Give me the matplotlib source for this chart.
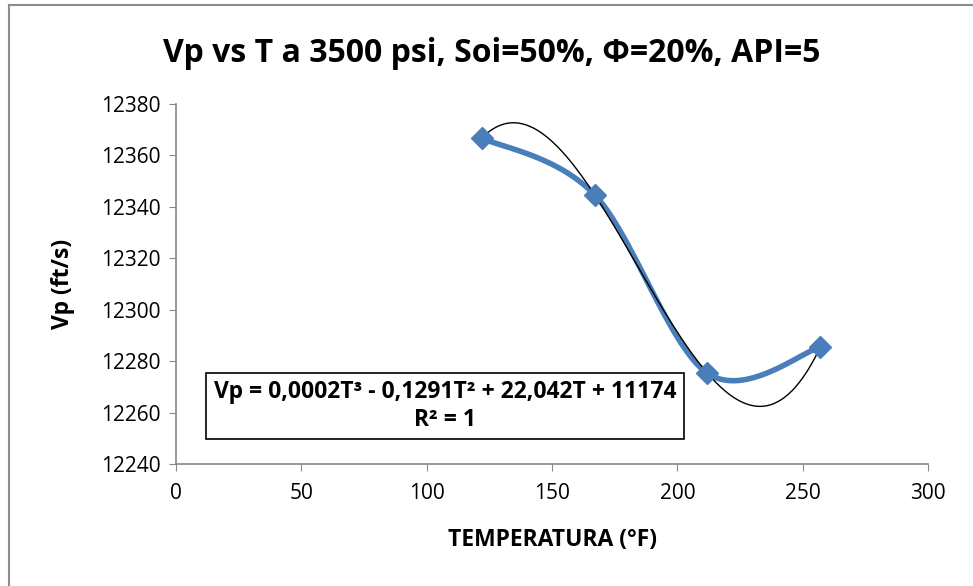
import matplotlib
matplotlib.use("Agg")
import matplotlib.pyplot as plt
import matplotlib.lines as mlines
import numpy as np

# Datos
temp = [122, 167, 212, 257]
vp = [12366.8, 12344.7, 12275.3, 12285.4]
x_ticks = [0, 50, 100, 150, 200, 250, 300]
y_ticks = [12240, 12260, 12280, 12300, 12320, 12340, 12360, 12380]

titulo = "Vp vs T a 3500 psi, Soi=50%, \u03a6=20%, API=5"
ecuacion = "Vp = 0,0002T\u00b3 - 0,1291T\u00b2 + 22,042T + 11174\nR\u00b2 = 1"

plt.rcParams['font.family'] = ['Open Sans', 'DejaVu Sans']


def suavizado(x, y, n=40):
    """Curva suavizada tipo Excel (Catmull-Rom)."""
    x = np.asarray(x, float)
    y = np.asarray(y, float)
    px = np.concatenate([[x[0]], x, [x[-1]]])
    py = np.concatenate([[y[0]], y, [y[-1]]])
    xs, ys = [], []
    t = np.linspace(0, 1, n)
    for i in range(1, len(px) - 2):
        p0x, p1x, p2x, p3x = px[i - 1], px[i], px[i + 1], px[i + 2]
        p0y, p1y, p2y, p3y = py[i - 1], py[i], py[i + 1], py[i + 2]
        # puntos de control bezier
        c1x, c1y = p1x + (p2x - p0x) / 6, p1y + (p2y - p0y) / 6
        c2x, c2y = p2x - (p3x - p1x) / 6, p2y - (p3y - p1y) / 6
        bx = (1 - t)**3 * p1x + 3 * (1 - t)**2 * t * c1x + 3 * (1 - t) * t**2 * c2x + t**3 * p2x
        by = (1 - t)**3 * p1y + 3 * (1 - t)**2 * t * c1y + 3 * (1 - t) * t**2 * c2y + t**3 * p2y
        xs.extend(bx)
        ys.extend(by)
    return np.array(xs), np.array(ys)


fig = plt.figure(figsize=(9.73, 5.86), dpi=100)
ax = fig.add_axes([176 / 973, 1 - 464 / 586, 752 / 973, 360 / 586])

# linea de tendencia polinomica de orden 3
coef = np.polyfit(temp, vp, 3)
tt = np.linspace(temp[0], temp[-1], 300)
ax.plot(tt, np.polyval(coef, tt), color="black", lw=1.0, zorder=3)

sx, sy = suavizado(temp, vp)
ax.plot(sx, sy, color="#4A7EBB", lw=4.0, solid_capstyle="round", zorder=2)
ax.plot(temp, vp, ls="none", marker="D", ms=11, color="#4A7EBB", zorder=4)

ax.set_xlim(0, 300)
ax.set_ylim(12240, 12380)
ax.set_xticks(x_ticks)
ax.set_yticks(y_ticks)
ax.tick_params(labelsize=15, length=5, color="#888888", direction="out")
ax.tick_params(axis="y", pad=6)
ax.tick_params(axis="x", pad=9)
for s in ["top", "right"]:
    ax.spines[s].set_visible(False)
for s in ["left", "bottom"]:
    ax.spines[s].set_color("#888888")
    ax.spines[s].set_linewidth(1.2)

ax.set_xlabel("TEMPERATURA (\u00b0F)", fontsize=16.5, fontweight="bold", labelpad=17)
ax.set_ylabel("Vp (ft/s)", fontsize=16.5, fontweight="bold", labelpad=19)

ax.text(0.358, 0.161, ecuacion, transform=ax.transAxes, ha="center", va="center",
        fontsize=16.5, fontweight="bold", linespacing=1.2,
        bbox=dict(boxstyle="square,pad=0.33", fc="white", ec="black", lw=1.2),
        zorder=5)

fig.text(492 / 973, 1 - 53 / 586, titulo, ha="center", va="center",
         fontsize=23, fontweight="bold")

# borde del area del grafico (solo se ven izquierda y arriba)
fig.lines.append(mlines.Line2D([9 / 973, 9 / 973], [0, 1 - 5 / 586],
                               transform=fig.transFigure, color="#8c8c8c", lw=1.5))
fig.lines.append(mlines.Line2D([9 / 973, 1], [1 - 5 / 586, 1 - 5 / 586],
                               transform=fig.transFigure, color="#8c8c8c", lw=1.5))

fig.savefig("out.png", dpi=100)
